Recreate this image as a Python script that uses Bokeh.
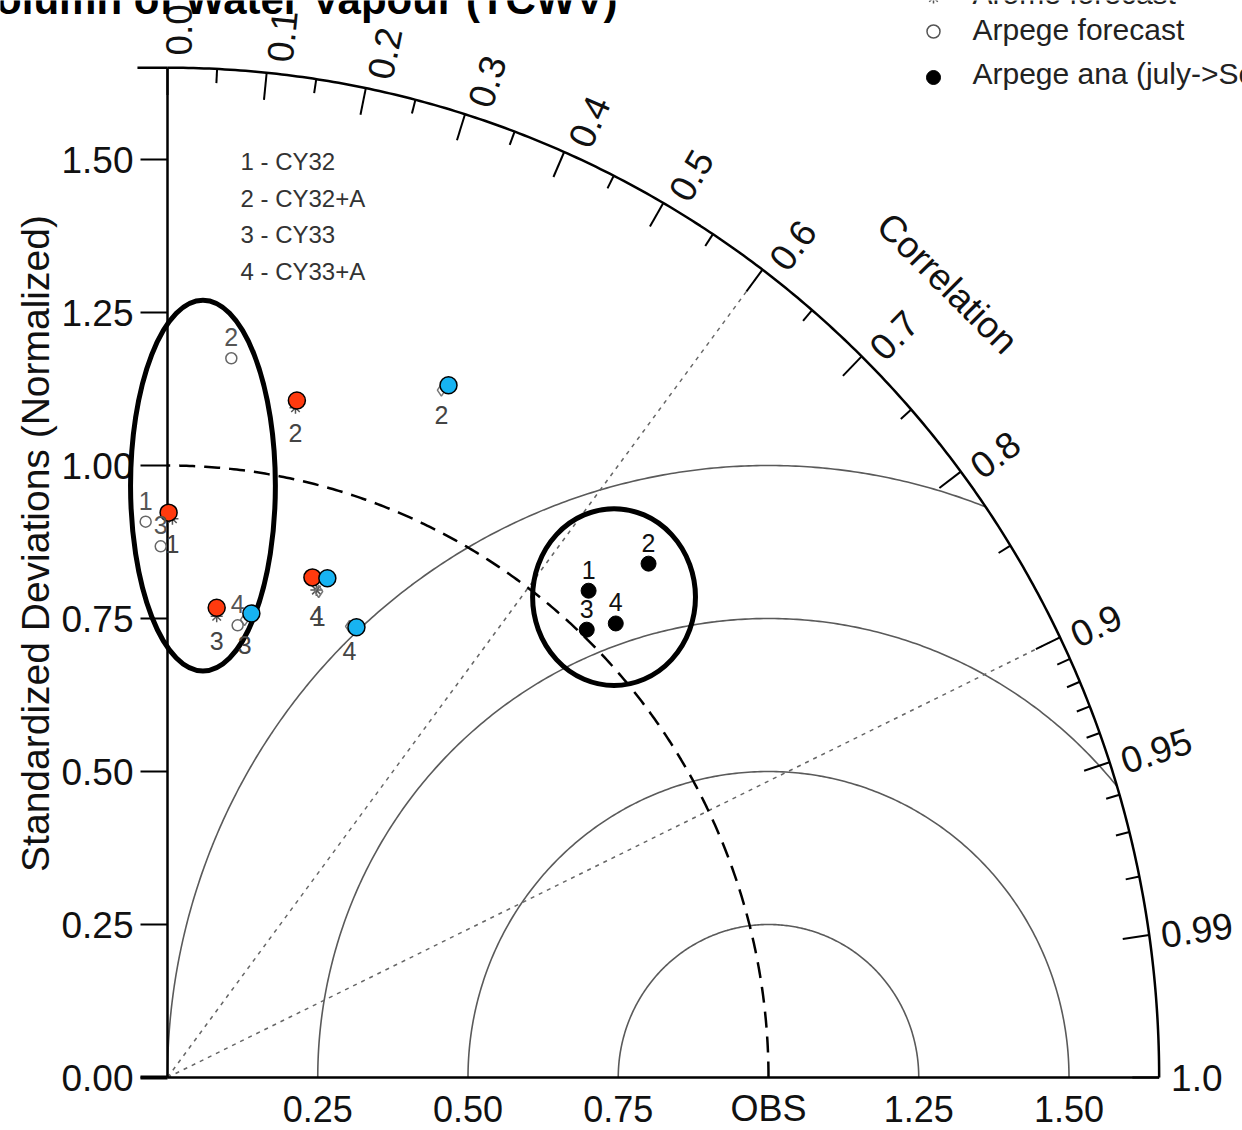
import numpy as np
from bokeh.plotting import figure
from bokeh.models import Range1d
from bokeh.core.properties import value
from bokeh.embed import file_html
from bokeh.resources import INLINE

# ---------------- data ----------------
TITLE = "Total Column of Water Vapour (TCWV)"
Y_TITLE = "Standardized Deviations (Normalized)"
COR_TITLE = "Correlation"

CASES = ["1", "2", "3", "4"]
CASE_NAMES = ["1 - CY32", "2 - CY32+A", "3 - CY33", "4 - CY33+A"]
LEGEND_NAMES = ["Arome forecast", "Arpege forecast", "Arpege ana (july->Sept)"]

# Arpege analysis (filled black dots)
ANA_STD = [1.060, 1.160, 1.011, 1.052]
ANA_COR = [0.661, 0.690, 0.690, 0.709]
# Arpege forecast (open circles)
ARP_STD = [0.909, 1.180, 0.868, 0.748]
ARP_COR = [-0.040, 0.090, -0.013, 0.156]
# Arome forecast (asterisks)
ARO_STD = [0.913, 1.115, 0.758, 0.834]
ARO_COR = [0.009, 0.191, 0.108, 0.297]
# second Arome series (diamonds)
DIA_STD = [0.833, 1.212, 0.759, 0.797]
DIA_COR = [0.302, 0.376, 0.169, 0.380]
# highlighted red dots
RED_STD = [0.923, 1.127, 0.772, 0.852]
RED_COR = [0.002, 0.191, 0.106, 0.283]
# highlighted blue dots
BLUE_STD = [0.858, 1.224, 0.771, 0.800]
BLUE_COR = [0.310, 0.382, 0.181, 0.393]

# hand-drawn highlight ellipses (centre x, centre y, width, height in diagram units)
ELL_X = [0.059, 0.743]
ELL_Y = [0.967, 0.785]
ELL_W = [0.241, 0.271]
ELL_H = [0.606, 0.289]

R_MAX = 1.65
STD_TICKS = [0.0, 0.25, 0.5, 0.75, 1.0, 1.25, 1.5]
STD_TICK_LABELS = ["0.00", "0.25", "0.50", "0.75", "1.00", "1.25", "1.50"]
X_TICKS = [0.25, 0.5, 0.75, 1.0, 1.25, 1.5]
X_TICK_LABELS = ["0.25", "0.50", "0.75", "OBS", "1.25", "1.50"]
COR_MAJOR = [0.0, 0.1, 0.2, 0.3, 0.4, 0.5, 0.6, 0.7, 0.8, 0.9, 0.95, 0.99, 1.0]
COR_MAJOR_LABELS = ["0.0", "0.1", "0.2", "0.3", "0.4", "0.5", "0.6", "0.7",
                    "0.8", "0.9", "0.95", "0.99", "1.0"]
COR_MINOR = [0.05, 0.15, 0.25, 0.35, 0.45, 0.55, 0.65, 0.75, 0.85,
             0.91, 0.92, 0.93, 0.94, 0.96, 0.97, 0.98]
RMS_RADII = [0.25, 0.5, 0.75, 1.0]
COR_LINES = [0.6, 0.9]

# ---------------- figure ----------------
W, H = 1242, 1130
SX, SY = 601.0, 612.0          # pixels per unit
OX, OY = 167.0, 1077.0         # origin position in plot pixels
p = figure(width=W, height=H,
           x_range=Range1d(-OX / SX, (W - OX) / SX),
           y_range=Range1d(-(H - OY) / SY, OY / SY),
           output_backend="svg", toolbar_location=None,
           x_axis_type=None, y_axis_type=None, min_border=0,
           outline_line_color=None)
p.background_fill_color = "white"

FONT = value("Liberation Sans")
PXU = 606.0


def polar(std, cor):
    s = np.asarray(std, float)
    c = np.asarray(cor, float)
    return s * c, s * np.sqrt(1 - c ** 2)


# RMS arcs centred on OBS
for rr in RMS_RADII:
    cphi = (R_MAX ** 2 - 1 - rr ** 2) / (2 * rr)
    start = np.arccos(cphi) if cphi < 1 else 0.0
    ph = np.linspace(start, np.pi, 300)
    p.line(1 + rr * np.cos(ph), rr * np.sin(ph), line_color="#5a5a5a", line_width=1.6)

# correlation dotted lines
for c in COR_LINES:
    t = np.arccos(c)
    p.line([0, R_MAX * np.cos(t)], [0, R_MAX * np.sin(t)], line_color="#666666",
           line_width=1.5, line_dash="4 5")

# dashed reference arc (std = 1)
th = np.linspace(0, np.pi / 2, 300)
p.line(np.cos(th), np.sin(th), line_color="black", line_width=2.5, line_dash="16 9")

# outer arc and axes
p.line(R_MAX * np.cos(th), R_MAX * np.sin(th), line_color="black", line_width=2.5)
p.line([-0.05, 0], [R_MAX, R_MAX], line_color="black", line_width=2.5)
p.line([0, 0], [0, R_MAX], line_color="black", line_width=2.5)
p.line([0, R_MAX], [0, 0], line_color="black", line_width=2.5)

# std ticks on left axis
p.segment(x0=[-27 / SX] * len(STD_TICKS), y0=STD_TICKS, x1=[0] * len(STD_TICKS), y1=STD_TICKS,
          line_color="black", line_width=2)
p.segment(x0=[-27 / SX], y0=[0], x1=[0], y1=[0], line_color="black", line_width=4)
p.text(x=[-34 / SX] * len(STD_TICKS), y=STD_TICKS, text=STD_TICK_LABELS,
       text_font=FONT, text_font_size=value("37px"), text_align="right",
       text_baseline="middle", text_color="#111111")

# x labels
p.text(x=X_TICKS, y=[-31 / SY] * len(X_TICKS), text=X_TICK_LABELS,
       text_font=FONT, text_font_size=value("36px"), text_align="center",
       text_baseline="middle", text_color="#111111")

# correlation ticks
for arr, ln in ((COR_MAJOR, 27 / PXU), (COR_MINOR, 14 / PXU)):
    t = np.arccos(np.asarray(arr))
    p.segment(x0=R_MAX * np.cos(t), y0=R_MAX * np.sin(t),
              x1=(R_MAX - ln) * np.cos(t), y1=(R_MAX - ln) * np.sin(t),
              line_color="black", line_width=2)

tl = np.arccos(np.asarray(COR_MAJOR))
rl = R_MAX + 12 / PXU
off = 12 / PXU * np.sin(tl)
p.text(x=rl * np.cos(tl) + off * np.sin(tl), y=rl * np.sin(tl) - off * np.cos(tl),
       text=COR_MAJOR_LABELS, angle=tl, text_font=FONT, text_font_size=value("37px"),
       text_align="left", text_baseline="middle", text_color="#111111")

# titles
p.text(x=[np.cos(np.pi / 4) * 1.835], y=[np.sin(np.pi / 4) * 1.835], text=[COR_TITLE],
       angle=[-np.pi / 4], text_font=FONT, text_font_size=value("37px"),
       text_align="center", text_baseline="middle", text_color="#111111")
p.text(x=[-132 / SX], y=[534 / SY], text=[Y_TITLE], angle=[np.pi / 2],
       text_font=FONT, text_font_size=value("39px"), text_align="center",
       text_baseline="middle", text_color="#111111")
p.text(x=[450 / SX], y=[1078 / SY], text=[TITLE], text_font=FONT,
       text_font_size=value("42px"), text_font_style="bold", text_align="right",
       text_baseline="middle", text_color="black")

# case list
p.text(x=[73 / SX] * 4, y=[(916 - 36.5 * i) / SY for i in range(4)], text=CASE_NAMES,
       text_font=FONT, text_font_size=value("24px"), text_align="left",
       text_baseline="middle", text_color="#333333")

# highlight ellipses
p.ellipse(x=ELL_X, y=ELL_Y, width=ELL_W, height=ELL_H, fill_color=None,
          line_color="black", line_width=5)

# markers
ax, ay = polar(ARO_STD, ARO_COR)
p.scatter(ax, ay, marker="asterisk", size=12, line_color="#555555", line_width=1.5)
dx, dy = polar(DIA_STD, DIA_COR)
p.scatter(dx, dy, marker="diamond", size=12, fill_color=None, line_color="#777777",
          line_width=1.5)
ox, oy = polar(ARP_STD, ARP_COR)
p.scatter(ox, oy, marker="circle", size=11, fill_color=None, line_color="#666666",
          line_width=1.5)
rx, ry = polar(RED_STD, RED_COR)
p.scatter(rx, ry, marker="circle", size=17, fill_color="#FF3A0E", line_color="black",
          line_width=1.5)
bx, by = polar(BLUE_STD, BLUE_COR)
p.scatter(bx, by, marker="circle", size=17, fill_color="#17B3F2", line_color="black",
          line_width=1.5)
kx, ky = polar(ANA_STD, ANA_COR)
p.scatter(kx, ky, marker="circle", size=15, fill_color="black", line_color="black")

LBL = dict(text_font=FONT, text_font_size=value("25px"), text_align="center",
           text_baseline="middle")
p.text(x=ax, y=ay - 25 / SY, text=CASES, text_color="#444444", **LBL)
p.text(x=dx, y=dy - 25 / SY, text=CASES, text_color="#444444", **LBL)
p.text(x=ox, y=oy + 21 / SY, text=CASES, text_color="#555555", **LBL)
p.text(x=kx, y=ky + 21 / SY, text=CASES, text_color="#111111", **LBL)

# legend (top right)
LEG_X = 766 / SX
p.scatter([LEG_X], [1080 / SY], marker="asterisk", size=12, line_color="#555555", line_width=1.5)
p.scatter([LEG_X], [1046 / SY], marker="circle", size=13, fill_color=None,
          line_color="#555555", line_width=1.5)
p.scatter([LEG_X], [1000 / SY], marker="circle", size=14, fill_color="black",
          line_color="black")
p.text(x=[805 / SX] * 3, y=[1084 / SY, 1048 / SY, 1004 / SY], text=LEGEND_NAMES,
       text_font=FONT, text_font_size=value("30px"), text_align="left",
       text_baseline="middle", text_color="#222222")

open("out.html", "w").write(file_html(p, INLINE))
